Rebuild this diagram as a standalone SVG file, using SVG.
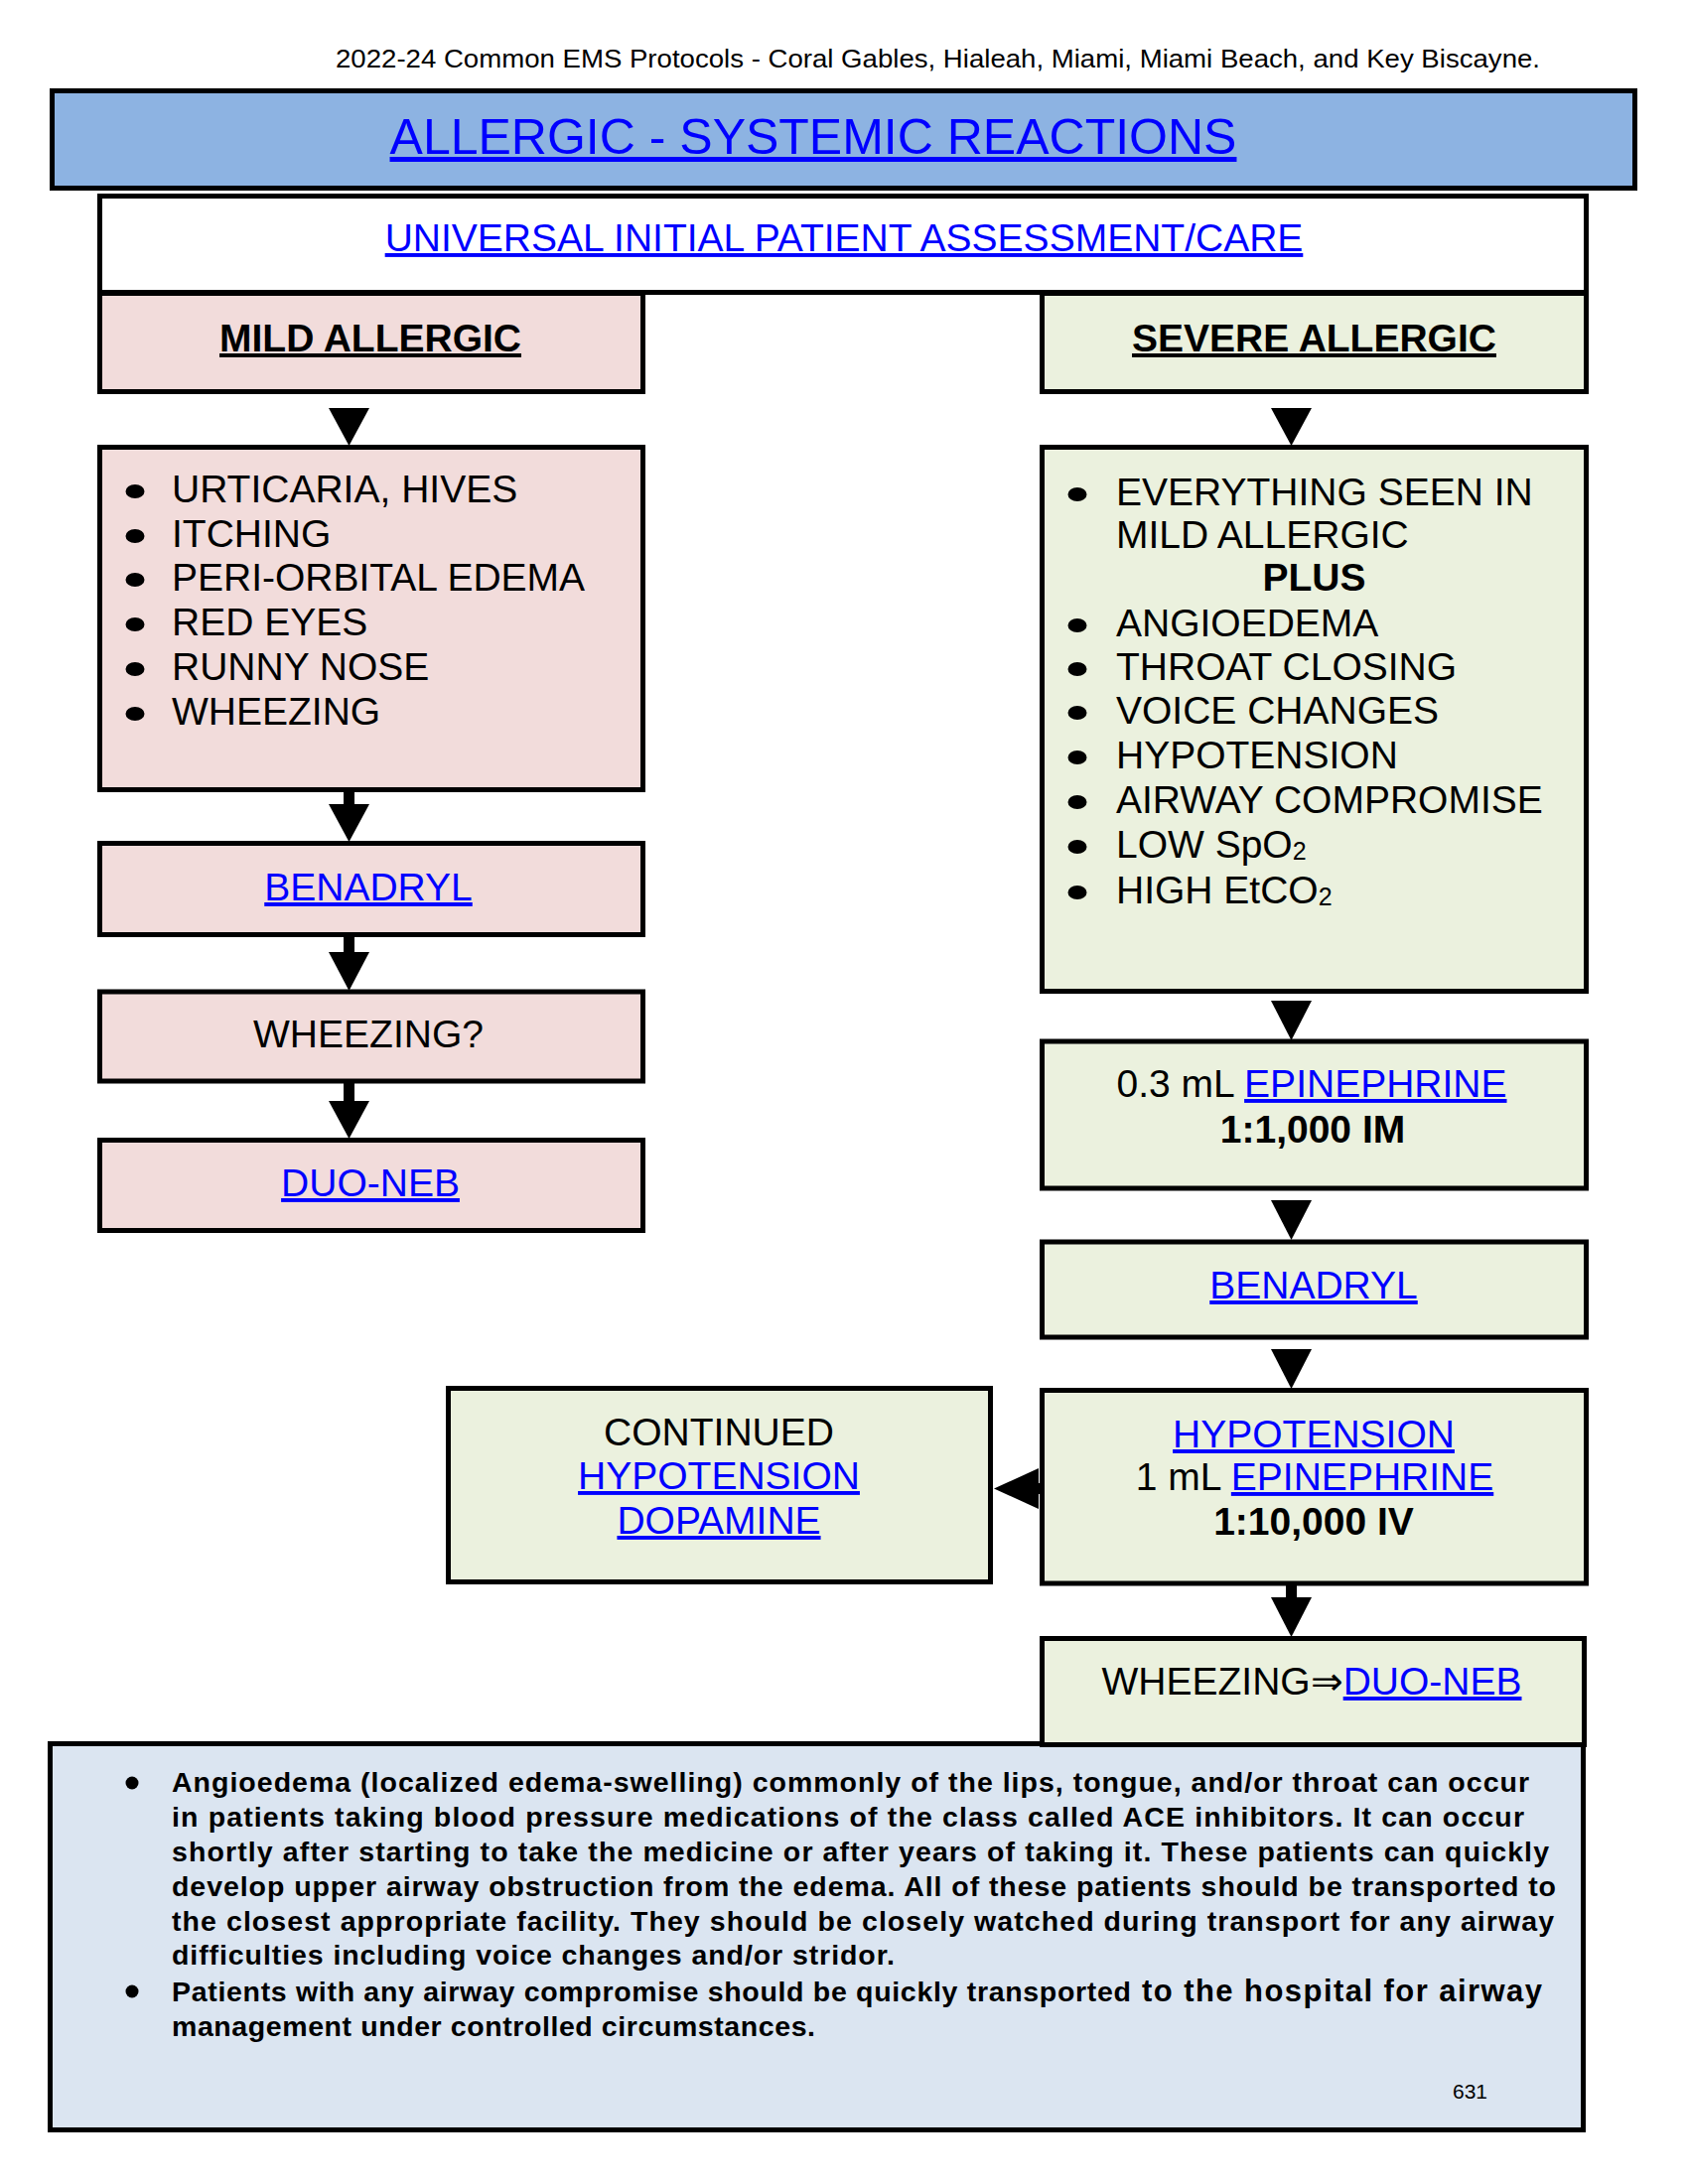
<svg xmlns="http://www.w3.org/2000/svg" width="1700" height="2200" viewBox="0 0 1700 2200">
<style>
text{font-family:"Liberation Sans",Arial,sans-serif;fill:#000}
.box{stroke:#000;stroke-width:5}
.pink{fill:#F2DCDB}
.green{fill:#EBF1DE}
.lk{fill:#0000FF;text-decoration:underline}
.c{text-anchor:middle}
.t38{font-size:39px}
.b{font-weight:bold}
.n{font-size:28.5px;font-weight:bold}
.arr{fill:#000}
</style>
<rect width="1700" height="2200" fill="#fff"/>
<text x="338" y="68" font-size="26.5" textLength="1213" lengthAdjust="spacingAndGlyphs">2022-24 Common EMS Protocols - Coral Gables, Hialeah, Miami, Miami Beach, and Key Biscayne.</text>

<g id="title">
<rect class="box" x="52.5" y="91.5" width="1594" height="98" fill="#8DB3E2"/>
<text class="lk c" x="819" y="155" font-size="50">ALLERGIC - SYSTEMIC REACTIONS</text>
</g>
<g id="universal">
<rect class="box" x="100.5" y="197.5" width="1497" height="97" fill="#fff"/>
<text class="lk c" x="850" y="253" font-size="39">UNIVERSAL INITIAL PATIENT ASSESSMENT/CARE</text>
</g>
<g id="mild">
<rect class="box pink" x="100.5" y="295.5" width="547" height="99"/>
<text class="c t38 b" x="373" y="354" text-decoration="underline">MILD ALLERGIC</text>
</g>
<g id="severe">
<rect class="box green" x="1049.5" y="295.5" width="548" height="99"/>
<text class="c t38 b" x="1323.5" y="354" text-decoration="underline">SEVERE ALLERGIC</text>
</g>

<g id="mild-symptoms">
<rect class="box pink" x="100.5" y="450.5" width="547" height="345"/>
<g class="arr">
<ellipse cx="136" cy="495" rx="9.5" ry="7"/>
<ellipse cx="136" cy="540" rx="9.5" ry="7"/>
<ellipse cx="136" cy="584" rx="9.5" ry="7"/>
<ellipse cx="136" cy="629" rx="9.5" ry="7"/>
<ellipse cx="136" cy="674" rx="9.5" ry="7"/>
<ellipse cx="136" cy="719" rx="9.5" ry="7"/>
</g>
<text class="t38" x="173" y="506">URTICARIA, HIVES</text>
<text class="t38" x="173" y="551">ITCHING</text>
<text class="t38" x="173" y="595">PERI-ORBITAL EDEMA</text>
<text class="t38" x="173" y="640">RED EYES</text>
<text class="t38" x="173" y="685">RUNNY NOSE</text>
<text class="t38" x="173" y="730">WHEEZING</text>
</g>
<g id="mild-benadryl">
<rect class="box pink" x="100.5" y="849.5" width="547" height="92"/>
<text class="lk c t38" x="371" y="907">BENADRYL</text>
</g>
<g id="mild-wheezing">
<rect class="box pink" x="100.5" y="999" width="547" height="90"/>
<text class="c t38" x="371" y="1055">WHEEZING?</text>
</g>
<g id="mild-duoneb">
<rect class="box pink" x="100.5" y="1148.5" width="547" height="91"/>
<text class="lk c t38" x="373" y="1205">DUO-NEB</text>
</g>

<g id="severe-symptoms">
<rect class="box green" x="1049.5" y="450.5" width="548" height="548"/>
<g class="arr">
<ellipse cx="1085" cy="498" rx="9.5" ry="7"/>
<ellipse cx="1085" cy="630" rx="9.5" ry="7"/>
<ellipse cx="1085" cy="674" rx="9.5" ry="7"/>
<ellipse cx="1085" cy="718" rx="9.5" ry="7"/>
<ellipse cx="1085" cy="763" rx="9.5" ry="7"/>
<ellipse cx="1085" cy="808" rx="9.5" ry="7"/>
<ellipse cx="1085" cy="853" rx="9.5" ry="7"/>
<ellipse cx="1085" cy="899" rx="9.5" ry="7"/>
</g>
<text class="t38" x="1124" y="509">EVERYTHING SEEN IN</text>
<text class="t38" x="1124" y="552">MILD ALLERGIC</text>
<text class="t38 b c" x="1323.5" y="595">PLUS</text>
<text class="t38" x="1124" y="641">ANGIOEDEMA</text>
<text class="t38" x="1124" y="685">THROAT CLOSING</text>
<text class="t38" x="1124" y="729">VOICE CHANGES</text>
<text class="t38" x="1124" y="774">HYPOTENSION</text>
<text class="t38" x="1124" y="819">AIRWAY COMPROMISE</text>
<text class="t38" x="1124" y="864">LOW SpO<tspan font-size="25" dy="2">2</tspan></text>
<text class="t38" x="1124" y="910">HIGH EtCO<tspan font-size="25" dy="2">2</tspan></text>
</g>
<g id="epinephrine-im">
<rect class="box green" x="1049.5" y="1049" width="548" height="148"/>
<text class="c t38" x="1321" y="1105">0.3 mL <tspan class="lk">EPINEPHRINE</tspan></text>
<text class="c t38 b" x="1322" y="1151">1:1,000 IM</text>
</g>
<g id="severe-benadryl">
<rect class="box green" x="1049.5" y="1251" width="548" height="96"/>
<text class="lk c t38" x="1323" y="1308">BENADRYL</text>
</g>
<g id="hypotension">
<rect class="box green" x="1049.5" y="1400.5" width="548" height="194.5"/>
<text class="lk c t38" x="1323" y="1458">HYPOTENSION</text>
<text class="c t38" x="1324" y="1501">1 mL <tspan class="lk">EPINEPHRINE</tspan></text>
<text class="c t38 b" x="1323" y="1546">1:10,000 IV</text>
</g>
<g id="continued">
<rect class="box green" x="451.5" y="1398.5" width="546" height="195"/>
<text class="c t38" x="724" y="1456">CONTINUED</text>
<text class="lk c t38" x="724" y="1500">HYPOTENSION</text>
<text class="lk c t38" x="724" y="1545">DOPAMINE</text>
</g>

<g id="notes">
<rect class="box" x="50.5" y="1756.5" width="1544" height="389" fill="#DBE5F1"/>
<circle cx="133" cy="1796" r="6.5"/>
<circle cx="133" cy="2006" r="6.5"/>
<text class="n" x="173" y="1805" textLength="1367" lengthAdjust="spacing">Angioedema (localized edema-swelling) commonly of the lips, tongue, and/or throat can occur</text>
<text class="n" x="173" y="1840" textLength="1362" lengthAdjust="spacing">in patients taking blood pressure medications of the class called ACE inhibitors. It can occur</text>
<text class="n" x="173" y="1875" textLength="1387" lengthAdjust="spacing">shortly after starting to take the medicine or after years of taking it. These patients can quickly</text>
<text class="n" x="173" y="1910" textLength="1394" lengthAdjust="spacing">develop upper airway obstruction from the edema. All of these patients should be transported to</text>
<text class="n" x="173" y="1945" textLength="1392" lengthAdjust="spacing">the closest appropriate facility. They should be closely watched during transport for any airway</text>
<text class="n" x="173" y="1979" textLength="728" lengthAdjust="spacing">difficulties including voice changes and/or stridor.</text>
<text class="n" x="173" y="2016" textLength="966" lengthAdjust="spacing">Patients with any airway compromise should be quickly transported</text>
<text x="1150" y="2016" font-size="31" font-weight="bold" textLength="403" lengthAdjust="spacing">to the hospital for airway</text>
<text class="n" x="173" y="2051" textLength="648" lengthAdjust="spacing">management under controlled circumstances.</text>
<text x="1463" y="2114" font-size="21">631</text>
</g>

<g id="wheezing-duoneb">
<rect class="box green" x="1049.5" y="1650.5" width="546" height="107"/>
<text class="c t38" x="1321" y="1707">WHEEZING⇒<tspan class="lk">DUO-NEB</tspan></text>
</g>

<g id="connectors" class="arr">
<polygon points="331,411 372,411 351.5,449"/>
<rect x="346" y="797" width="11" height="14"/>
<polygon points="331,810 372,810 351.5,848"/>
<rect x="346" y="943" width="11" height="17"/>
<polygon points="331,959 372,959 351.5,998"/>
<rect x="346" y="1090" width="11" height="20"/>
<polygon points="331,1109 372,1109 351.5,1147"/>
<polygon points="1280,411 1321,411 1300.5,449"/>
<polygon points="1280,1008 1321,1008 1300.5,1048"/>
<polygon points="1280,1209 1321,1209 1300.5,1249"/>
<polygon points="1280,1359 1321,1359 1300.5,1399"/>
<rect x="1295" y="1596" width="11" height="14"/>
<polygon points="1280,1609 1321,1609 1300.5,1649"/>
<rect x="1044" y="1494" width="7" height="11"/>
<polygon points="1046,1479 1046,1520 1001,1499.5"/>
</g>
</svg>
